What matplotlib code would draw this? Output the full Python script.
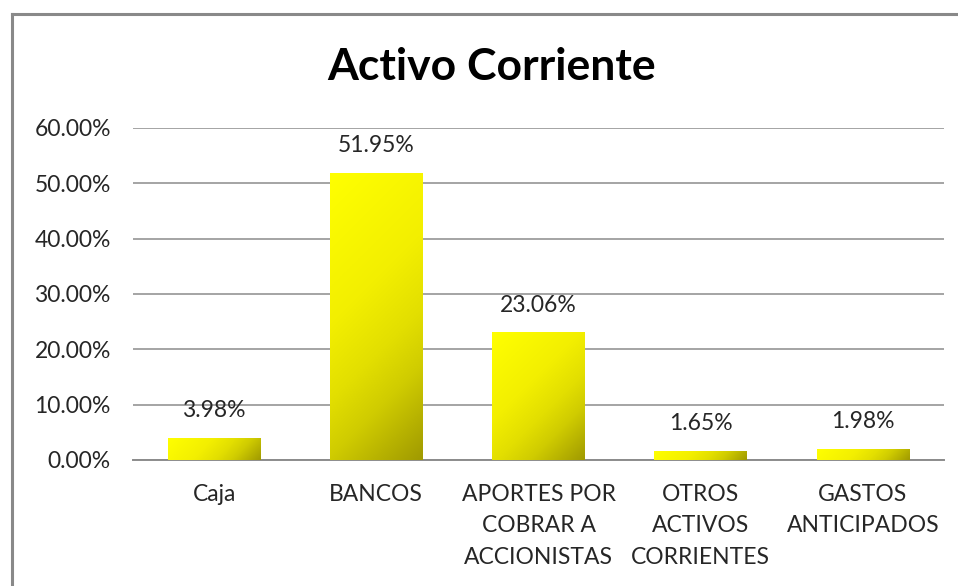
import numpy as np
import matplotlib
matplotlib.use("Agg")
import matplotlib.pyplot as plt
from matplotlib.colors import LinearSegmentedColormap
from matplotlib.lines import Line2D

categories = ["Caja", "BANCOS", "APORTES POR\nCOBRAR A\nACCIONISTAS", "OTROS\nACTIVOS\nCORRIENTES", "GASTOS\nANTICIPADOS"]
values = [3.98, 51.95, 23.06, 1.65, 1.98]
labels = ["3.98%", "51.95%", "23.06%", "1.65%", "1.98%"]
yticks = [0, 10, 20, 30, 40, 50, 60]
title = "Activo Corriente"

plt.rcParams['font.family'] = ['Lato', 'DejaVu Sans']

fig = plt.figure(figsize=(9.58, 5.86), dpi=100)
ax = fig.add_axes([133/958, 1-460/586, 811/958, (460-128)/586])

x = np.arange(len(categories))
bars = ax.bar(x, values, width=0.57, color='none', edgecolor='none', zorder=3)

ax.set_xlim(-0.5, len(categories) - 0.5)
ax.set_ylim(0, 60)

cmap = LinearSegmentedColormap.from_list(
    'yel', [(0.0, '#FFFF00'), (0.4, '#F3EF00'), (0.6, '#E3DF00'),
            (0.75, '#D0CC00'), (1.0, '#A09A00')])
gu, gv = np.meshgrid(np.linspace(0, 1, 160), np.linspace(0, 1, 160))
fig.canvas.draw()
for b in bars:
    x0, y0 = b.get_x(), b.get_y()
    w, h = b.get_width(), b.get_height()
    (px0, py0), (px1, py1) = ax.transData.transform([(x0, y0), (x0 + w, y0 + h)])
    wp, hp = abs(px1 - px0), abs(py1 - py0)
    t = (gu * wp + gv * hp) / (wp + hp)  # 45-degree gradient, top-left -> bottom-right
    im = ax.imshow(t, cmap=cmap, extent=[x0, x0 + w, y0, y0 + h], origin='upper',
                   aspect='auto', zorder=3, vmin=0, vmax=1, interpolation='bilinear')
    im.set_clip_path(b)

for xi, v, lab in zip(x, values, labels):
    ax.annotate(lab, (xi, v), xytext=(0, 19.5), textcoords='offset points',
                ha='center', va='center', fontsize=16.5, color='#262626')

ax.set_yticks(yticks)
ax.set_yticklabels([f"{t:.2f}%" for t in yticks], fontsize=16.5, color='#262626')
ax.set_xticks(x)
ax.set_xticklabels(categories, fontsize=16.5, color='#262626', linespacing=1.62)
ax.tick_params(axis='both', length=0)
ax.tick_params(axis='y', pad=16)
ax.tick_params(axis='x', pad=17)
ax.grid(axis='y', color='#8C8C8C', linewidth=1.1, zorder=0)
ax.set_axisbelow(True)
for s in ['top', 'right', 'left']:
    ax.spines[s].set_visible(False)
ax.spines['bottom'].set_color('#8C8C8C')
ax.spines['bottom'].set_linewidth(1.4)

fig.text(492/958, 1-67/586, title, ha='center', va='center', fontsize=32, fontweight='bold', color='black')

# chart border
fig.add_artist(Line2D([12/958, 1], [1-14/586, 1-14/586], color='#898989', linewidth=2.2, transform=fig.transFigure))
fig.add_artist(Line2D([12/958, 12/958], [1-14/586, 0], color='#898989', linewidth=2.2, transform=fig.transFigure))

fig.savefig('out.png', dpi=100)
